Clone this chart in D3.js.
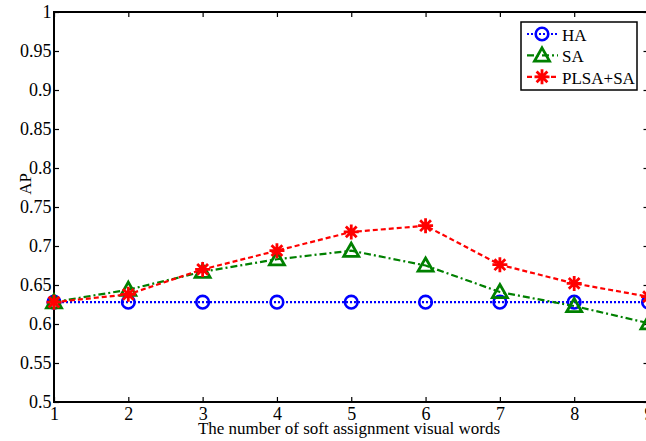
<!DOCTYPE html>
<html><head><meta charset="utf-8">
<script src="https://cdn.jsdelivr.net/npm/d3@7"></script>
<style>body{margin:0;background:#fff}svg{display:block}</style>
</head><body><div id="c"></div>
<script>
const xValues = [1,2,3,4,5,6,7,8,9];
const haValues = [0.628,0.628,0.628,0.628,0.628,0.628,0.628,0.628,0.628];
const saValues = [0.628,0.644,0.667,0.683,0.694,0.675,0.641,0.623,0.601];
const plsaValues = [0.628,0.638,0.670,0.694,0.718,0.726,0.676,0.652,0.635];
const seriesNames = ["HA","SA","PLSA+SA"];
const yTicks = [0.5,0.55,0.6,0.65,0.7,0.75,0.8,0.85,0.9,0.95,1];
const xLabel = "The number of soft assignment visual words";
const yLabel = "AP";

const FONT='Liberation Serif';
const W=646,H=441;
const svg=d3.select("#c").append("svg").attr("width",W).attr("height",H);
const x=d3.scaleLinear().domain([1,9]).range([54,648.5]);
const y=d3.scaleLinear().domain([0.5,1]).range([402,12]);

function styleText(sel,size){
  sel.attr("font-family",FONT).attr("font-size",size).attr("fill","#000");
}

const g=svg.append("g");
const yAxis=d3.axisLeft(y).tickValues(yTicks).tickSize(-5).tickPadding(2.5).tickFormat(d=>String(+d.toFixed(2)));
const ya=g.append("g").attr("transform","translate(54,0)").call(yAxis);
const xAxis=d3.axisBottom(x).tickValues(xValues).tickSize(-5).tickPadding(0);
const xa=g.append("g").attr("transform","translate(0,402)").call(xAxis);
const xt=g.append("g").attr("transform","translate(0,12)").call(d3.axisTop(x).tickValues(xValues).tickSize(-5).tickFormat(""));
const yr=g.append("g").attr("transform","translate(648.5,0)").call(d3.axisRight(y).tickValues(yTicks).tickSize(-5).tickFormat(""));
[ya,xa,xt,yr].forEach(a=>{
  a.attr("font-family",FONT).attr("font-size",18);
  a.select(".domain").remove();
  a.selectAll(".tick line").attr("stroke","#000").attr("stroke-width",1.2);
  styleText(a.selectAll("text"),18);
});
xa.selectAll(".tick text").attr("y",18).attr("dy",null);
g.append("line").attr("x1",54).attr("x2",54).attr("y1",11).attr("y2",403).attr("stroke","#000").attr("stroke-width",2);
g.append("line").attr("x1",53).attr("x2",650).attr("y1",402).attr("y2",402).attr("stroke","#000").attr("stroke-width",2);
g.append("line").attr("x1",53).attr("x2",650).attr("y1",12).attr("y2",12).attr("stroke","#000").attr("stroke-width",2);

styleText(svg.append("text").attr("x",349).attr("y",433.5).attr("text-anchor","middle").text(xLabel),17);
styleText(svg.append("text").attr("transform","translate(31,184) rotate(-90)").attr("text-anchor","middle").text(yLabel),17);

const series=[
 {name:seriesNames[0],vals:haValues,color:"#0000ff",dash:"2,2",marker:"circle"},
 {name:seriesNames[1],vals:saValues,color:"#008000",dash:"7,3,2,3",marker:"tri"},
 {name:seriesNames[2],vals:plsaValues,color:"#ff0000",dash:"5,3",marker:"star"}
];
const line=d3.line().x((d,i)=>x(xValues[i])).y(d=>y(d));
function drawMarker(sel,type,cx,cy,color){
  if(type==="circle"){
    sel.append("circle").attr("cx",cx).attr("cy",cy).attr("r",6.3).attr("fill","none").attr("stroke",color).attr("stroke-width",2.6);
  } else if(type==="tri"){
    const s=7.5;
    sel.append("path").attr("d",`M${cx},${cy-s}L${cx+s},${cy+s*0.75}L${cx-s},${cy+s*0.75}Z`).attr("fill","none").attr("stroke",color).attr("stroke-width",2.8).attr("stroke-linejoin","miter");
  } else {
    const r=7.5,d=r*0.72;
    sel.append("path").attr("d",`M${cx-r},${cy}L${cx+r},${cy}M${cx},${cy-r}L${cx},${cy+r}M${cx-d},${cy-d}L${cx+d},${cy+d}M${cx-d},${cy+d}L${cx+d},${cy-d}`).attr("stroke",color).attr("stroke-width",2.8).attr("fill","none");
  }
}
const plot=svg.append("g");
series.forEach(s=>{
  plot.append("path").datum(s.vals).attr("d",line).attr("fill","none").attr("stroke",s.color).attr("stroke-width",2.2).attr("stroke-dasharray",s.dash);
  s.vals.forEach((v,i)=>drawMarker(plot,s.marker,x(xValues[i]),y(v),s.color));
});

const lg=svg.append("g");
lg.append("rect").attr("x",521).attr("y",22).attr("width",116).attr("height",68).attr("fill","#fff").attr("stroke","#000").attr("stroke-width",1.5);
series.forEach((s,i)=>{
  const cy=34+i*21.4;
  lg.append("line").attr("x1",527).attr("x2",558).attr("y1",cy).attr("y2",cy).attr("stroke",s.color).attr("stroke-width",2.2).attr("stroke-dasharray",s.dash);
  drawMarker(lg,s.marker,542,cy,s.color);
  styleText(lg.append("text").attr("x",562).attr("y",cy+6.8).text(s.name),17);
});
</script></body></html>
